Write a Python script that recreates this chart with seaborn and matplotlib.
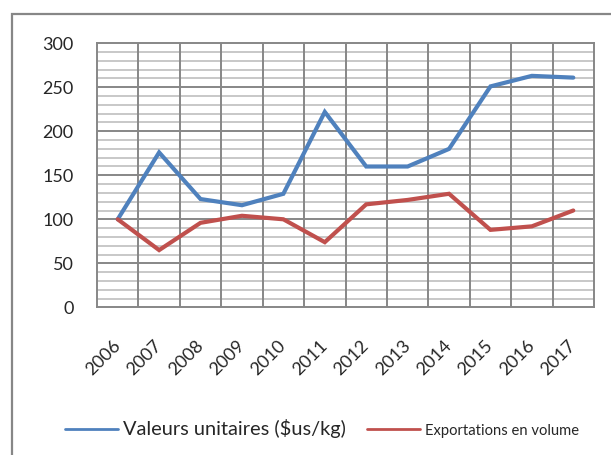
import matplotlib
matplotlib.use("Agg")
import matplotlib.pyplot as plt
from matplotlib.patches import Rectangle
from matplotlib.lines import Line2D
from matplotlib.ticker import MultipleLocator
import seaborn as sns
import pandas as pd
import numpy as np

# Indices 2006 = 100
years = ["2006", "2007", "2008", "2009", "2010", "2011",
         "2012", "2013", "2014", "2015", "2016", "2017"]
valeurs_unitaires = [100, 176, 123, 116, 129, 222, 160, 160, 180, 251, 263, 261]
exportations_volume = [100, 65, 96, 104, 100, 74, 117, 122, 129, 88, 92, 110]

label_vu = "Valeurs unitaires ($us/kg)"
label_ev = "Exportations en volume"
colors = {label_vu: "#4F81BD", label_ev: "#C0504D"}

df = pd.DataFrame({
    "pos": list(range(len(years))) * 2,
    "valeur": valeurs_unitaires + exportations_volume,
    "serie": [label_vu] * len(years) + [label_ev] * len(years),
})

sns.set_theme(style="white")
plt.rcParams["font.family"] = ["Lato", "DejaVu Sans"]

W, H = 611, 455
fig = plt.figure(figsize=(W / 100, H / 100), dpi=100)
ax = fig.add_axes([97 / W, (H - 307.3) / H, (594 - 97) / W, (307.3 - 43.3) / H])

sns.lineplot(data=df, x="pos", y="valeur", hue="serie", palette=colors,
             linewidth=3.0, ax=ax, legend=False, solid_joinstyle="miter",
             zorder=3)

ax.set_xlim(-0.5, len(years) - 0.5)
ax.set_ylim(0, 300)

# grid: minor every 10, major every 50, verticals between categories
ax.yaxis.set_major_locator(MultipleLocator(50))
for v in np.arange(10, 300, 10):
    if v % 50:
        ax.axhline(v, color="#c4c4c4", lw=1.3, zorder=1)
for v in np.arange(50, 300, 50):
    ax.axhline(v, color="#878787", lw=1.4, zorder=1.5)
for b in np.arange(0.5, len(years) - 0.5, 1):
    ax.axvline(b, color="#878787", lw=1.4, zorder=1.5)
for s in ax.spines.values():
    s.set_visible(True)
    s.set_color("#878787")
    s.set_linewidth(1.4)

ax.set_xticks(range(len(years)))
ax.set_xticklabels(years, rotation=45, ha="right", va="center",
                   rotation_mode="anchor", fontsize=13)
ax.tick_params(axis="x", length=0, pad=26)
ax.tick_params(axis="y", length=0, pad=17, labelsize=13)
ax.set_yticks(np.arange(0, 301, 50))
ax.set_xlabel("")
ax.set_ylabel("")

# legend below the plot
handles = [Line2D([], [], color=colors[label_vu], lw=2.0),
           Line2D([], [], color=colors[label_ev], lw=2.0)]
leg = fig.legend(handles, [label_vu, label_ev], ncol=2, frameon=False,
                 loc="center", bbox_to_anchor=(322 / W, (H - 429) / H),
                 fontsize=14.4, handlelength=2.65, handletextpad=0.25,
                 columnspacing=1.05, borderpad=0, borderaxespad=0)
leg.get_texts()[1].set_fontsize(10.6)

# chart frame (open to the right and bottom)
fig.patches.append(Rectangle((12 / W, -0.1), 1.2, (H - 14) / H + 0.1,
                             transform=fig.transFigure, fill=False,
                             edgecolor="#878787", lw=1.6))

fig.savefig("out.png", dpi=100)
